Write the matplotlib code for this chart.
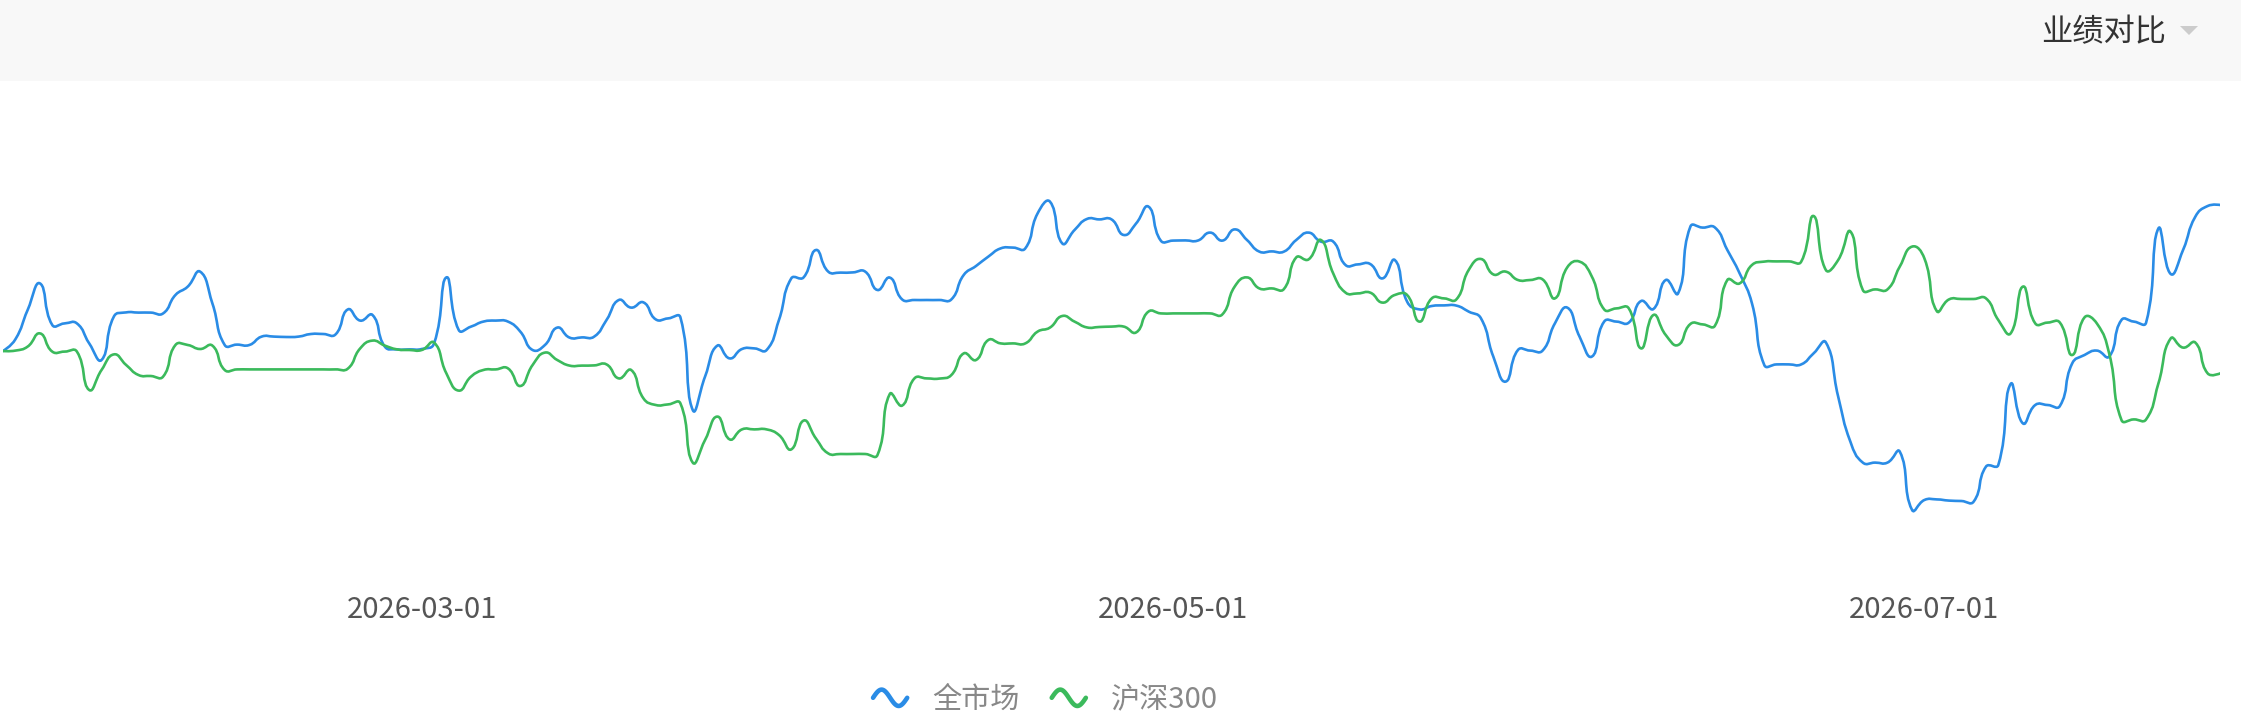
import numpy as np
import pandas as pd
import matplotlib
matplotlib.use("Agg")
import matplotlib.pyplot as plt
import matplotlib.dates as mdates
from matplotlib.path import Path
from matplotlib.patches import PathPatch, Rectangle, Polygon
from matplotlib.lines import Line2D
from matplotlib.legend_handler import HandlerBase

plt.rcParams['font.family'] = ['Noto Sans CJK SC', 'DejaVu Sans']

# daily cumulative return (%), calendar days from 2026-01-26
start_date = "2026-01-26"
tick_dates = ["2026-03-01", "2026-05-01", "2026-07-01"]
series_names = ["全市场", "沪深300"]
series_colors = ["#2a8ce6", "#3bba5c"]

market = [
    0.00, 0.58, 2.05, 3.38, 1.30, 1.38, 1.38, 0.38, -0.45, 1.72,
    1.93, 1.92, 1.92, 1.88, 2.80, 3.22, 3.97, 2.38, 0.30, 0.32,
    0.30, 0.72, 0.72, 0.70, 0.72, 0.85, 0.85, 0.83, 2.08, 1.52,
    1.80, 0.22, 0.08, 0.08, 0.10, 0.38, 3.68, 1.05, 1.22, 1.47,
    1.52, 1.47, 0.97, 0.05, 0.30, 1.17, 0.67, 0.68, 0.72, 1.55,
    2.55, 2.17, 2.43, 1.58, 1.63, 1.68, -2.95, -1.28, 0.27, -0.37,
    0.10, 0.13, 0.05, 1.55, 3.63, 3.68, 5.05, 3.97, 3.92, 3.93,
    3.97, 3.05, 3.67, 2.58, 2.55, 2.55, 2.55, 2.58, 3.80, 4.25,
    4.72, 5.13, 5.17, 5.13, 6.88, 7.47, 5.38, 6.05, 6.60, 6.58,
    6.58, 5.80, 6.38, 7.22, 5.52, 5.52, 5.53, 5.52, 5.92, 5.52,
    6.08, 5.55, 4.97, 4.98, 4.97, 5.55, 5.92, 5.47, 5.47, 4.30,
    4.33, 4.35, 3.63, 4.55, 2.47, 2.08, 2.25, 2.28, 2.27, 1.97,
    1.63, -0.28, -1.53, 0.05, 0.02, 0.02, 1.38, 2.17, 0.72, -0.28,
    1.47, 1.47, 1.42, 2.50, 2.10, 3.55, 2.88, 6.22, 6.17, 6.17,
    5.05, 3.88, 2.38, -0.70, -0.67, -0.67, -0.67, -0.12, 0.43, -2.28,
    -4.55, -5.58, -5.58, -5.58, -5.03, -7.95, -7.45, -7.42, -7.48, -7.50,
    -7.53, -5.78, -5.70, -1.65, -3.62, -2.70, -2.70, -2.75, -0.62, -0.20,
    0.02, -0.28, 1.55, 1.47, 1.42, 6.13, 3.85, 5.05, 6.72, 7.25,
    7.30,
]

hs300 = [
    0.00, 0.02, 0.22, 0.88, -0.03, -0.03, -0.03, -1.95, -0.95, -0.17,
    -0.70, -1.20, -1.25, -1.28, 0.30, 0.30, 0.10, 0.27, -0.95, -0.92,
    -0.92, -0.92, -0.92, -0.92, -0.92, -0.92, -0.92, -0.92, -0.88, 0.13,
    0.52, 0.27, 0.08, 0.05, 0.05, 0.42, -1.12, -1.98, -1.28, -0.95,
    -0.92, -0.87, -1.75, -0.70, -0.08, -0.45, -0.73, -0.73, -0.72, -0.67,
    -1.37, -0.95, -2.37, -2.70, -2.67, -2.62, -5.58, -4.45, -3.28, -4.42,
    -3.92, -3.92, -3.92, -4.20, -4.92, -3.48, -4.37, -5.12, -5.15, -5.15,
    -5.15, -5.20, -2.15, -2.73, -1.37, -1.37, -1.38, -1.20, -0.12, -0.45,
    0.55, 0.38, 0.38, 0.38, 0.97, 1.17, 1.75, 1.47, 1.18, 1.20,
    1.22, 1.22, 0.93, 1.97, 1.88, 1.88, 1.88, 1.88, 1.88, 1.83,
    3.22, 3.68, 3.13, 3.13, 3.10, 4.68, 4.58, 5.55, 3.88, 2.92,
    2.88, 2.92, 2.42, 2.80, 2.80, 1.47, 2.63, 2.63, 2.58, 4.05,
    4.60, 3.83, 3.97, 3.55, 3.55, 3.58, 2.63, 4.18, 4.47, 3.72,
    2.08, 2.13, 2.13, 0.13, 1.80, 0.80, 0.30, 1.35, 1.33, 1.27,
    3.55, 3.38, 4.30, 4.47, 4.48, 4.48, 4.47, 6.75, 4.05, 4.55,
    5.97, 3.05, 3.08, 3.08, 4.22, 5.22, 4.63, 2.00, 2.58, 2.60,
    2.60, 2.63, 1.55, 0.88, 3.22, 1.38, 1.42, 1.42, -0.20, 1.68,
    1.38, -0.12, -3.45, -3.42, -3.42, -1.62, 0.63, 0.17, 0.42, -1.12,
    -1.12,
]

dates = pd.date_range(start_date, periods=len(market), freq="D")

W, H = 2241, 726
fig = plt.figure(figsize=(W / 100, H / 100), dpi=100)

# header band
fig.add_artist(Rectangle((0, 1 - 81 / H), 1, 81 / H, transform=fig.transFigure,
                         facecolor="#f8f8f8", edgecolor="none", zorder=0))
fig.text(2166 / W, 1 - 32 / H, "业绩对比", ha="right", va="center",
         fontsize=22.5, color="#333333")
fig.add_artist(Polygon([(2180 / W, 1 - 26 / H), (2198 / W, 1 - 26 / H), (2189 / W, 1 - 35 / H)],
                       closed=True, transform=fig.transFigure, facecolor="#cccccc",
                       edgecolor="none"))

ax = fig.add_axes([3 / W, 1 - 580 / H, (2220 - 3) / W, 500 / H])
ax.set_facecolor("none")
xnum = mdates.date2num(dates)
ax.set_xlim(xnum[0], xnum[-1])
ax.set_ylim(-11.45, 13.55)


def smooth_line(ax, x, y, color, smooth=0.5):
    # echarts-like smoothing, computed in pixel space
    pts = ax.transData.transform(np.column_stack([x, y]))
    n = len(pts)
    cin = pts.copy()
    cout = pts.copy()
    for i in range(1, n - 1):
        p0, p, p1 = pts[i - 1], pts[i], pts[i + 1]
        v = (p1 - p0) * smooth
        d0 = np.hypot(*(p - p0))
        d1 = np.hypot(*(p1 - p))
        if d0 + d1 == 0:
            continue
        cin[i] = p - v * d0 / (d0 + d1)
        cout[i] = p + v * d1 / (d0 + d1)
    verts = [pts[0]]
    codes = [Path.MOVETO]
    for i in range(n - 1):
        verts += [cout[i], cin[i + 1], pts[i + 1]]
        codes += [Path.CURVE4] * 3
    verts = ax.transData.inverted().transform(np.array(verts))
    patch = PathPatch(Path(verts, codes), facecolor="none", edgecolor=color,
                      lw=1.9, capstyle="round", joinstyle="round")
    ax.add_patch(patch)


for vals, col in zip([market, hs300], series_colors):
    smooth_line(ax, xnum, vals, col)

for s in ax.spines.values():
    s.set_visible(False)
ax.set_yticks([])
ax.set_xticks(mdates.date2num(pd.to_datetime(tick_dates)))
ax.xaxis.set_major_formatter(mdates.DateFormatter("%Y-%m-%d"))
ax.tick_params(axis="x", length=0, pad=11, labelsize=21, labelcolor="#555555")


class WaveHandler(HandlerBase):
    def create_artists(self, legend, orig_handle, xdescent, ydescent,
                       width, height, fontsize, trans):
        t = np.linspace(0, 1, 60)
        xs = -xdescent + t * width
        ys = -ydescent + height / 2 + height * 0.4 * np.sin(2 * np.pi * t)
        ln = Line2D(xs, ys, color=orig_handle.get_color(), lw=3.3,
                    solid_capstyle="round")
        ln.set_transform(trans)
        return [ln]


handles = [Line2D([], [], color=c) for c in series_colors]
fig.legend(handles, series_names, loc="center", ncol=2,
           bbox_to_anchor=(1045.5 / W, 1 - 700 / H), frameon=False,
           fontsize=21, labelcolor="#888888", handlelength=1.17,
           handletextpad=0.86, columnspacing=1.1, borderpad=0,
           handler_map={Line2D: WaveHandler()})

fig.savefig("out.png", dpi=100, facecolor="white")
